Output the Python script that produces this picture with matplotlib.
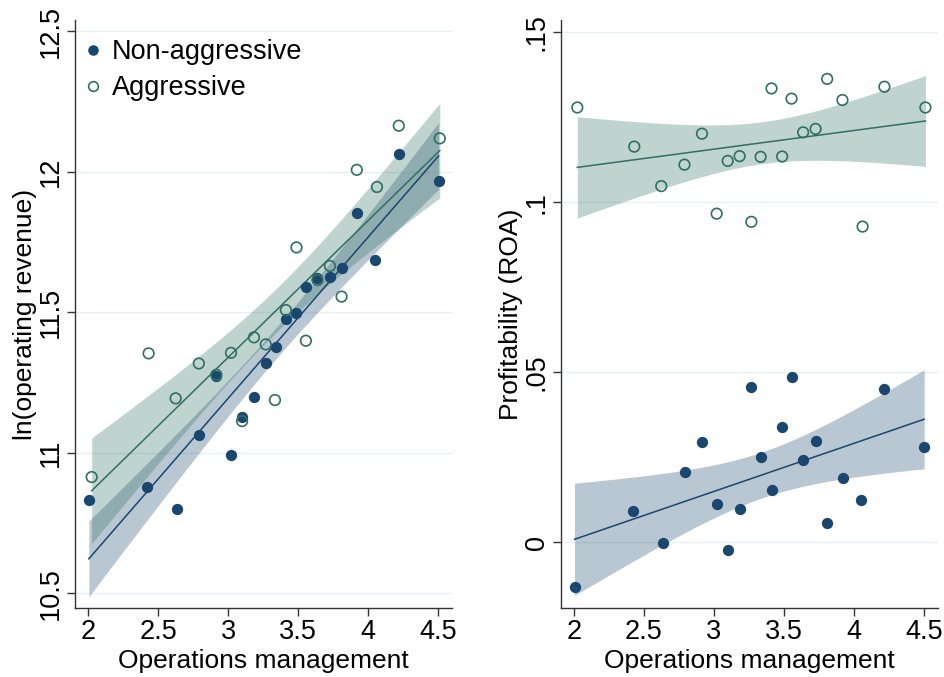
import numpy as np
import matplotlib
matplotlib.use("Agg")
import matplotlib.pyplot as plt
from matplotlib.lines import Line2D

plt.rcParams['font.family'] = ['Liberation Sans', 'DejaVu Sans']

# operations management score, one per firm
x_non = [2.004, 2.419, 2.636, 2.793, 2.915, 3.019, 3.099, 3.185, 3.267, 3.340,
         3.415, 3.487, 3.555, 3.636, 3.727, 3.811, 3.920, 4.052, 4.218, 4.503]
x_agg = [2.024, 2.431, 2.624, 2.790, 2.915, 3.020, 3.099, 3.184, 3.268, 3.334,
         3.412, 3.488, 3.555, 3.638, 3.727, 3.810, 3.919, 4.063, 4.219, 4.512]

# ln(operating revenue)
rev_non = [10.831, 10.877, 10.799, 11.063, 11.273, 10.991, 11.126, 11.198, 11.321, 11.378,
           11.477, 11.499, 11.591, 11.623, 11.627, 11.657, 11.854, 11.687, 12.063, 11.967]
rev_agg = [10.914, 11.354, 11.194, 11.318, 11.278, 11.356, 11.113, 11.411, 11.386, 11.188,
           11.508, 11.731, 11.399, 11.615, 11.665, 11.556, 12.007, 11.946, 12.164, 12.119]

# profitability (ROA)
roa_non = [-0.0131, 0.0093, -0.0001, 0.0208, 0.0294, 0.0113, -0.0023, 0.0098, 0.0458, 0.0251,
           0.0155, 0.0339, 0.0486, 0.0241, 0.0299, 0.0058, 0.0188, 0.0123, 0.0452, 0.0279]
roa_agg = [0.1278, 0.1163, 0.1047, 0.1110, 0.1201, 0.0966, 0.1121, 0.1135, 0.0942, 0.1133,
           0.1334, 0.1134, 0.1304, 0.1205, 0.1215, 0.1362, 0.1300, 0.0928, 0.1339, 0.1278]

x_ticks = [2, 2.5, 3, 3.5, 4, 4.5]
x_ticklabels = ['2', '2.5', '3', '3.5', '4', '4.5']
rev_ticks = [10.5, 11, 11.5, 12, 12.5]
rev_ticklabels = ['10.5', '11', '11.5', '12', '12.5']
roa_ticks = [0, 0.05, 0.1, 0.15]
roa_ticklabels = ['0', '.05', '.1', '.15']

NAVY = '#1a476f'
TEAL = '#2e7062'
GRID = '#e6eff1'
T975 = 2.101  # t quantile, 18 df


def fit_band(x, y, n=120):
    x = np.asarray(x)
    y = np.asarray(y)
    b, a = np.polyfit(x, y, 1)
    xs = np.linspace(x.min(), x.max(), n)
    resid = y - (a + b * x)
    s = np.sqrt(resid @ resid / (len(x) - 2))
    se = s * np.sqrt(1 / len(x) + (xs - x.mean()) ** 2 / ((x - x.mean()) ** 2).sum())
    yh = a + b * xs
    return xs, yh, yh - T975 * se, yh + T975 * se


def panel(ax, y_non, y_agg, yticks, yticklabels, ylim, ylabel):
    for xv, yv, col in [(x_non, y_non, NAVY), (x_agg, y_agg, TEAL)]:
        xs, yh, lo, hi = fit_band(xv, yv)
        ax.fill_between(xs, lo, hi, color=col, alpha=0.3, lw=0, zorder=1)
        ax.plot(xs, yh, color=col, lw=1.1, zorder=2)
    ax.scatter(x_non, y_non, s=66, color=NAVY, lw=0, zorder=3)
    ax.scatter(x_agg, y_agg, s=58, facecolors='none', edgecolors=TEAL, lw=1.2, zorder=4)

    ax.set_xlim(1.905, 4.6)
    ax.set_ylim(*ylim)
    ax.set_xticks(x_ticks)
    ax.set_xticklabels(x_ticklabels)
    ax.set_yticks(yticks)
    ax.set_yticklabels(yticklabels, rotation=90, va='center')
    for yv in yticks:
        ax.axhline(yv, color=GRID, lw=1.0, zorder=0)
    for side in ['top', 'right']:
        ax.spines[side].set_visible(False)
    for side in ['left', 'bottom']:
        ax.spines[side].set_color('#333333')
        ax.spines[side].set_linewidth(1.0)
    ax.tick_params(length=5.5, width=1.0, color='#333333', labelsize=19.5, pad=2.5)
    ax.set_xlabel('Operations management', fontsize=19)
    ax.xaxis.set_label_coords(0.5, -0.09)
    ax.xaxis.label.set_va('center')
    ax.set_ylabel(ylabel, fontsize=19)
    ax.yaxis.set_label_coords(-0.133, 0.5)
    ax.yaxis.label.set_va('center')


fig = plt.figure(figsize=(9.45, 6.77), dpi=100)
ax1 = fig.add_axes([0.0794, 0.1019, 0.399, 0.8685])
ax2 = fig.add_axes([0.5933, 0.1019, 0.399, 0.8685])

panel(ax1, rev_non, rev_agg, rev_ticks, rev_ticklabels, (10.448, 12.54), 'ln(operating revenue)')
panel(ax2, roa_non, roa_agg, roa_ticks, roa_ticklabels, (-0.0193, 0.1535), 'Profitability (ROA)')

handles = [
    Line2D([], [], ls='none', marker='o', ms=7.6, mfc=NAVY, mec=NAVY, mew=0),
    Line2D([], [], ls='none', marker='o', ms=7.0, mfc='none', mec=TEAL, mew=1.2),
]
leg = ax1.legend(handles, ['Non-aggressive', 'Aggressive'], loc='upper left',
                 bbox_to_anchor=(-0.024, 1.0), fontsize=19.5, frameon=True,
                 facecolor='white', edgecolor='none', framealpha=1, fancybox=False,
                 borderpad=0.2, borderaxespad=0.5, handlelength=0.6, handletextpad=0.4,
                 labelspacing=0.38)
leg.set_zorder(5)

fig.savefig('out.png', dpi=100)
